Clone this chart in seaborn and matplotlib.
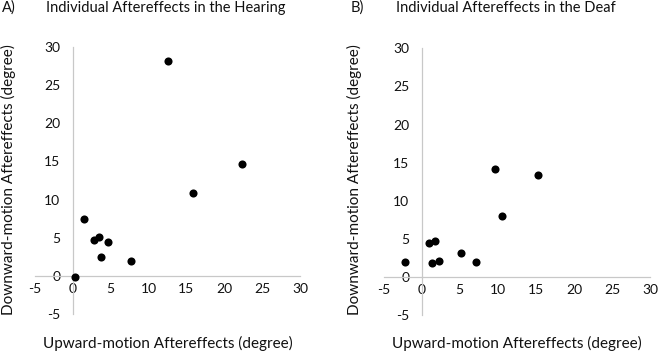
import matplotlib
matplotlib.use("Agg")
import matplotlib.pyplot as plt
import seaborn as sns
import pandas as pd

# Data
hearing_up = [0.3, 1.5, 2.8, 3.4, 3.7, 4.6, 7.7, 12.5, 15.9, 22.4]
hearing_down = [-0.1, 7.5, 4.7, 5.15, 2.5, 4.4, 2.0, 28.1, 10.8, 14.7]
deaf_up = [-2.2, 0.9, 1.75, 1.4, 2.3, 5.2, 7.2, 10.5, 9.6, 15.3]
deaf_down = [2.0, 4.5, 4.8, 1.9, 2.1, 3.2, 2.0, 8.0, 14.2, 13.4]
ticks = [-5, 0, 5, 10, 15, 20, 25, 30]
titles = ["Individual Aftereffects in the Hearing", "Individual Aftereffects in the Deaf"]
letters = ["A)", "B)"]
xlabel = "Upward-motion Aftereffects (degree)"
ylabel = "Downward-motion Aftereffects (degree)"

sns.set_style("white")
plt.rcParams['font.family'] = ['Lato', 'DejaVu Sans']

fig = plt.figure(figsize=(6.6, 3.55), dpi=100)
W, H = 660, 355
axes_px = [(35, 300, 47, 314), (383.6, 650, 48.3, 315.4)]
data = [(hearing_up, hearing_down), (deaf_up, deaf_down)]
text_color = "#111111"
spine_color = "#c8c8c8"

for i, ((x0, x1, y0, y1), (xs, ys)) in enumerate(zip(axes_px, data)):
    ax = fig.add_axes([x0 / W, (H - y1) / H, (x1 - x0) / W, (y1 - y0) / H])
    df = pd.DataFrame({"up": xs, "down": ys})
    sns.scatterplot(data=df, x="up", y="down", ax=ax, color="black", s=34,
                    edgecolor="black", linewidth=0, zorder=3, clip_on=False)
    ax.set_xlim(-5, 30)
    ax.set_ylim(-5, 30)
    ax.set_xticks(ticks)
    ax.set_yticks(ticks)
    ax.set_xticklabels([str(t) for t in ticks])
    ax.set_yticklabels([str(t) for t in ticks])
    for s in ["top", "right"]:
        ax.spines[s].set_visible(False)
    ax.spines["left"].set_position(("data", 0))
    ax.spines["bottom"].set_position(("data", 0))
    for s in ["left", "bottom"]:
        ax.spines[s].set_color(spine_color)
        ax.spines[s].set_linewidth(0.9)
        ax.spines[s].set_zorder(1)
    ax.tick_params(axis="x", length=0, pad=5, labelsize=10, labelcolor=text_color)
    ax.tick_params(axis="y", length=0, pad=9, labelsize=10, labelcolor=text_color)
    ax.set_xlabel("")
    ax.set_ylabel("")
    ax.patch.set_alpha(0)
    cx = (x0 + x1) / 2
    fig.text(cx / W, 1 - 343 / H, xlabel, ha="center", va="center",
             fontsize=11, color=text_color)
    lx = 8.5 if i == 0 else 354.5
    fig.text(lx / W, 1 - 180 / H, ylabel, ha="center", va="center",
             rotation=90, fontsize=11, color=text_color)
    tx = 2 if i == 0 else 351
    fig.text(tx / W, 1 - 8 / H, letters[i], ha="left", va="center",
             fontsize=10.5, color=text_color)
    ttx = 46 if i == 0 else 396
    fig.text(ttx / W, 1 - 8 / H, titles[i], ha="left", va="center",
             fontsize=10.5, color=text_color)

fig.savefig("out.png", dpi=100)
